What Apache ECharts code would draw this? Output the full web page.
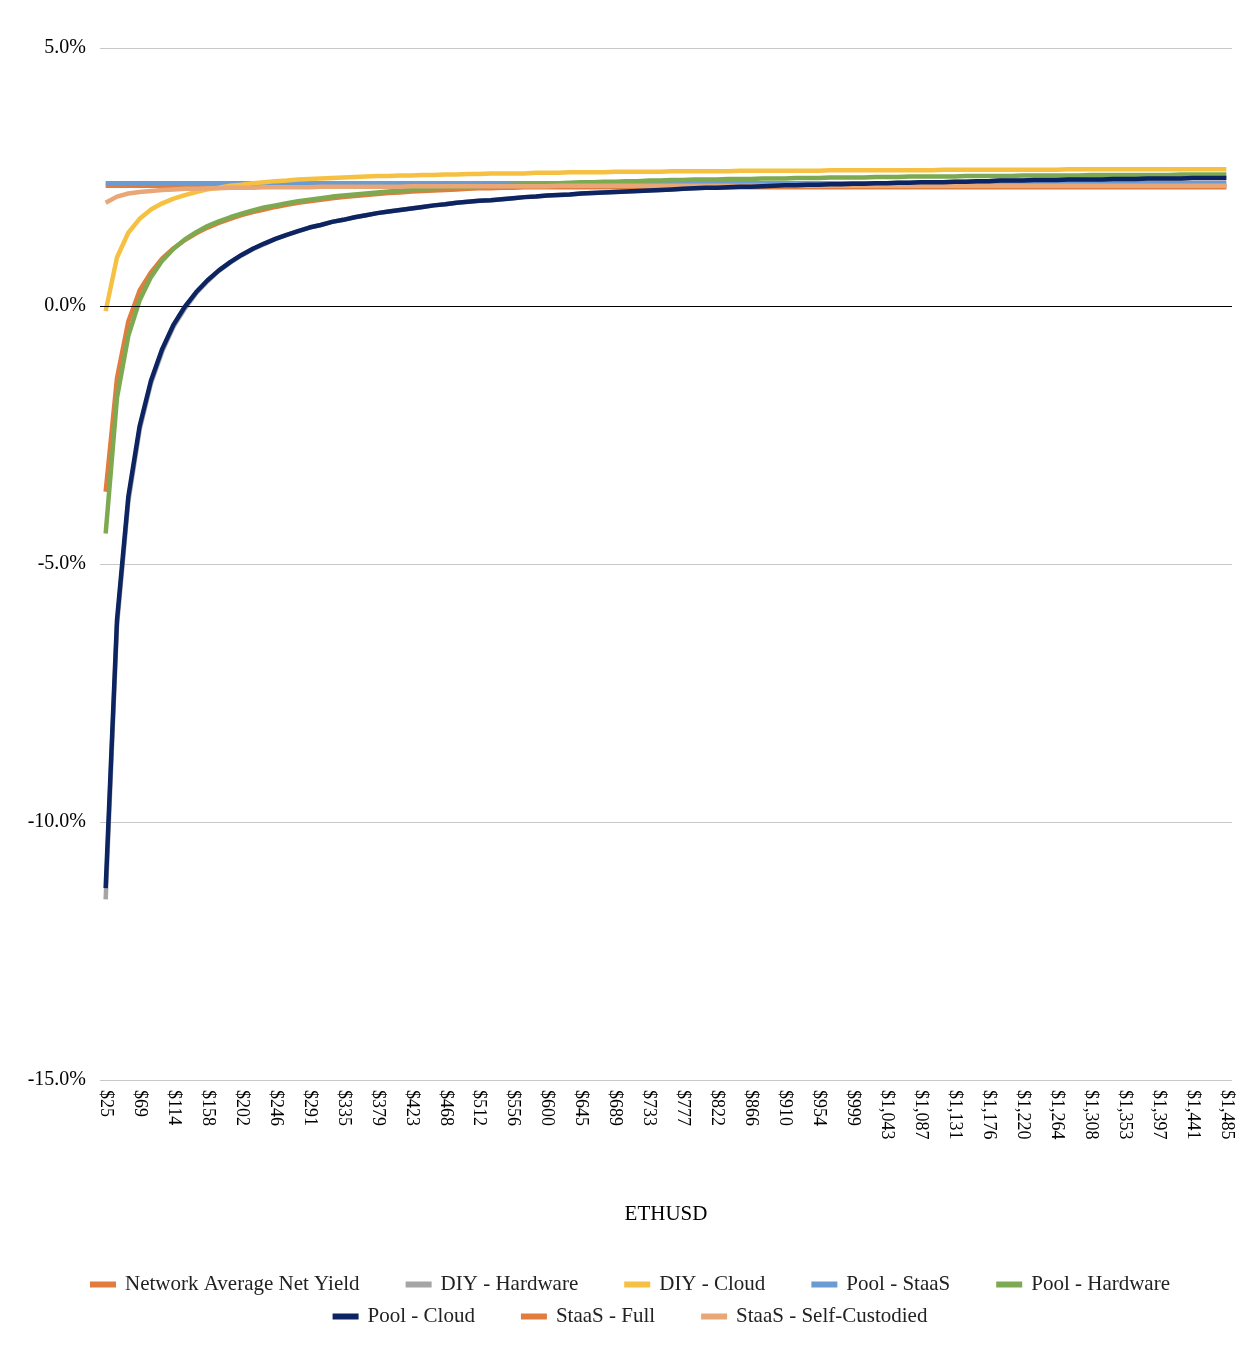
<!DOCTYPE html>
<html><head><meta charset="utf-8">
<script src="https://cdn.jsdelivr.net/npm/echarts@6/dist/echarts.min.js"></script>
<style>html,body{margin:0;padding:0;background:#fff}#c{width:1260px;height:1362px}</style>
</head><body><div id="c"></div>
<script>
const categories = [25,40,55,69,84,99,114,128,143,158,173,187,202,217,232,246,261,276,291,305,320,335,350,364,379,394,409,423,438,453,468,482,497,512,527,541,556,571,586,600,615,630,645,659,674,689,704,718,733,748,763,777,792,807,822,836,851,866,881,895,910,925,940,954,969,984,999,1013,1028,1043,1058,1072,1087,1102,1117,1131,1146,1161,1176,1190,1205,1220,1235,1249,1264,1279,1294,1308,1323,1338,1353,1367,1382,1397,1412,1426,1441,1456,1471,1485];
const networkAvg = Array(100).fill(2.33);
const poolStaaS = Array(100).fill(2.38);
const poolCloud = [-11.28,-6.09,-3.70,-2.33,-1.45,-0.83,-0.36,-0.01,0.27,0.50,0.69,0.85,0.99,1.11,1.21,1.30,1.38,1.45,1.52,1.57,1.63,1.67,1.72,1.76,1.80,1.83,1.86,1.89,1.92,1.95,1.97,2.00,2.02,2.04,2.05,2.07,2.09,2.11,2.12,2.14,2.15,2.16,2.18,2.19,2.20,2.21,2.22,2.23,2.24,2.25,2.26,2.27,2.28,2.29,2.29,2.30,2.31,2.31,2.32,2.33,2.34,2.34,2.35,2.35,2.36,2.36,2.37,2.37,2.38,2.38,2.39,2.39,2.40,2.40,2.40,2.41,2.41,2.42,2.42,2.43,2.43,2.43,2.44,2.44,2.44,2.45,2.45,2.45,2.45,2.46,2.46,2.46,2.47,2.47,2.47,2.47,2.48,2.48,2.48,2.48];
const diyHardware = [-11.5,-6.2,-3.8,-2.4,-1.5,-0.88,-0.4,-0.05,0.25,0.48,0.68,0.84,0.98,1.10,1.20,1.30,1.38,1.45,1.52,1.57,1.63,1.67,1.72,1.76,1.80,1.83,1.86,1.89,1.92,1.95,1.97,2.00,2.02,2.04,2.05,2.07,2.09,2.11,2.12,2.14,2.15,2.16,2.18,2.19,2.20,2.21,2.22,2.23,2.24,2.25,2.26,2.27,2.28,2.29,2.29,2.30,2.31,2.31,2.32,2.33,2.34,2.34,2.35,2.35,2.36,2.36,2.37,2.37,2.38,2.38,2.39,2.39,2.40,2.40,2.40,2.41,2.41,2.42,2.42,2.43,2.43,2.43,2.44,2.44,2.44,2.45,2.45,2.45,2.45,2.46,2.46,2.46,2.47,2.47,2.47,2.47,2.48,2.48,2.48,2.48];
const poolHardware = [-4.41,-1.78,-0.58,0.11,0.56,0.88,1.11,1.29,1.43,1.55,1.64,1.72,1.79,1.85,1.91,1.95,1.99,2.03,2.06,2.09,2.12,2.14,2.16,2.18,2.20,2.22,2.24,2.25,2.27,2.28,2.29,2.30,2.31,2.32,2.33,2.34,2.35,2.36,2.37,2.37,2.38,2.39,2.40,2.40,2.41,2.41,2.42,2.42,2.43,2.43,2.44,2.44,2.45,2.45,2.45,2.46,2.46,2.46,2.47,2.47,2.47,2.48,2.48,2.48,2.49,2.49,2.49,2.49,2.50,2.50,2.50,2.51,2.51,2.51,2.51,2.51,2.52,2.52,2.52,2.52,2.52,2.53,2.53,2.53,2.53,2.53,2.53,2.54,2.54,2.54,2.54,2.54,2.54,2.54,2.54,2.55,2.55,2.55,2.55,2.55];
const diyCloud = [-0.10,0.94,1.42,1.69,1.87,1.99,2.08,2.15,2.21,2.26,2.29,2.33,2.35,2.38,2.40,2.42,2.43,2.45,2.46,2.47,2.48,2.49,2.50,2.51,2.52,2.52,2.53,2.53,2.54,2.54,2.55,2.55,2.56,2.56,2.57,2.57,2.57,2.57,2.58,2.58,2.58,2.59,2.59,2.59,2.59,2.60,2.60,2.60,2.60,2.60,2.61,2.61,2.61,2.61,2.61,2.61,2.62,2.62,2.62,2.62,2.62,2.62,2.62,2.62,2.63,2.63,2.63,2.63,2.63,2.63,2.63,2.63,2.63,2.63,2.64,2.64,2.64,2.64,2.64,2.64,2.64,2.64,2.64,2.64,2.64,2.65,2.65,2.65,2.65,2.65,2.65,2.65,2.65,2.65,2.65,2.65,2.65,2.65,2.65,2.65];
const staasFull = [-3.6,-1.4,-0.3,0.3,0.65,0.92,1.12,1.28,1.41,1.52,1.61,1.69,1.76,1.82,1.87,1.92,1.96,2.00,2.03,2.06,2.09,2.11,2.13,2.15,2.17,2.19,2.20,2.22,2.23,2.24,2.25,2.26,2.27,2.28,2.28,2.29,2.29,2.30,2.30,2.30,2.30,2.30,2.30,2.30,2.30,2.30,2.30,2.30,2.30,2.30,2.30,2.30,2.30,2.30,2.30,2.30,2.30,2.30,2.30,2.30,2.30,2.30,2.30,2.30,2.30,2.30,2.30,2.30,2.30,2.30,2.30,2.30,2.30,2.30,2.30,2.30,2.30,2.30,2.30,2.30,2.30,2.30,2.30,2.30,2.30,2.30,2.30,2.30,2.30,2.30,2.30,2.30,2.30,2.30,2.30,2.30,2.30,2.30,2.30,2.30];
const staasSelf = [2.00,2.12,2.18,2.21,2.23,2.25,2.26,2.27,2.27,2.28,2.28,2.29,2.29,2.29,2.30,2.30,2.30,2.30,2.30,2.31,2.31,2.31,2.31,2.31,2.31,2.31,2.31,2.32,2.32,2.32,2.32,2.32,2.32,2.32,2.32,2.32,2.32,2.32,2.32,2.32,2.33,2.33,2.33,2.33,2.33,2.33,2.33,2.33,2.33,2.33,2.33,2.33,2.33,2.33,2.33,2.33,2.33,2.33,2.33,2.33,2.33,2.33,2.33,2.33,2.33,2.33,2.33,2.33,2.33,2.33,2.33,2.33,2.33,2.33,2.33,2.33,2.33,2.33,2.33,2.33,2.33,2.33,2.33,2.33,2.33,2.33,2.33,2.33,2.33,2.33,2.33,2.33,2.33,2.33,2.33,2.33,2.33,2.33,2.33,2.33];

const font = "'Liberation Serif','Times New Roman',serif";
function s(name, data, color, z) {
  return {name, type:'line', data, symbol:'none', z, lineStyle:{color, width:4.5}, itemStyle:{color}};
}
const series = [
  s('Network Average Net Yield', networkAvg, '#E07C3E', 2),
  s('DIY - Hardware', diyHardware, '#A5A5A5', 2),
  s('DIY - Cloud', diyCloud, '#F6C143', 3),
  s('Pool - StaaS', poolStaaS, '#6A9BD3', 2),
  s('StaaS - Full', staasFull, '#E07C3E', 3),
  s('Pool - Hardware', poolHardware, '#7DAA50', 4),
  s('Pool - Cloud', poolCloud, '#0C2461', 5),
  s('StaaS - Self-Custodied', staasSelf, '#E9A677', 4)
];
series[0].markLine = {silent:true, symbol:'none', label:{show:false}, lineStyle:{color:'#000', width:1.2, type:'solid'}, data:[{yAxis:0}]};
const legendRow1 = ['Network Average Net Yield','DIY - Hardware','DIY - Cloud','Pool - StaaS','Pool - Hardware'];
const legendRow2 = ['Pool - Cloud','StaaS - Full','StaaS - Self-Custodied'];
const legBase = {left:'center', itemWidth:26, itemHeight:6, itemGap:46, icon:'rect',
  textStyle:{fontFamily:font, fontSize:21, color:'#222', padding:[0,0,0,4]}};
const chart = echarts.init(document.getElementById('c'));
chart.setOption({
  animation:false,
  textStyle:{fontFamily:font},
  grid:{left:100, right:28, top:48, bottom:282},
  legend:[Object.assign({data:legendRow1, top:1269}, legBase), Object.assign({data:legendRow2, top:1301}, legBase)],
  xAxis:{type:'category', data:categories, boundaryGap:true, name:'ETHUSD', nameLocation:'middle', nameGap:124,
    nameTextStyle:{fontFamily:font, fontSize:21, color:'#000'},
    axisLine:{show:false}, axisTick:{show:false},
    axisLabel:{interval:2, rotate:-90, fontFamily:font, fontSize:18, color:'#000', margin:10,
      formatter:v=>'$'+Number(v).toLocaleString('en-US')}},
  yAxis:{type:'value', min:-15, max:5, interval:5, axisLine:{show:false}, axisTick:{show:false},
    splitLine:{lineStyle:{color:'#c8c8c8', width:1.2}},
    axisLabel:{fontFamily:font, fontSize:20, color:'#000', margin:14, formatter:v=>v.toFixed(1)+'%'}},
  series
});
</script></body></html>
